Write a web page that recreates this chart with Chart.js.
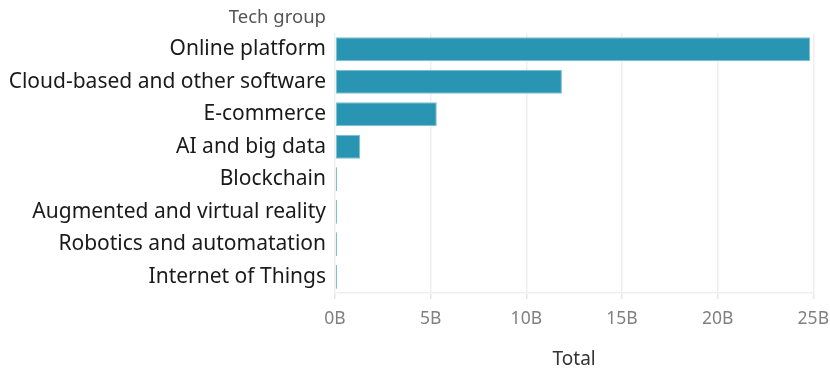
<!DOCTYPE html>
<html>
<head>
<meta charset="utf-8">
<script src="https://cdn.jsdelivr.net/npm/chart.js@4"></script>
<style>
  body { margin: 0; background: #fff; overflow: hidden; }
  #wrap { width: 839px; height: 370px; }
</style>
</head>
<body>
<div id="wrap"><canvas id="chart"></canvas></div>
<script>
// tech groups, biggest first
const groups = [
  "Online platform",
  "Cloud-based and other software",
  "E-commerce",
  "AI and big data",
  "Blockchain",
  "Augmented and virtual reality",
  "Robotics and automatation",
  "Internet of Things",
];
// totals in billions
const totals = [24.83, 11.86, 5.32, 1.32, 0.02, 0.02, 0.02, 0.02];
const xTicks = [0, 5, 10, 15, 20, 25];

const FONT = "'Noto Sans', 'Open Sans', sans-serif";

// "Tech group" header above the category labels
const groupHeader = {
  id: "groupHeader",
  afterDraw(chart) {
    const { ctx, scales } = chart;
    ctx.save();
    ctx.font = "18.5px " + FONT;
    ctx.fillStyle = "#555";
    ctx.textAlign = "right";
    ctx.textBaseline = "middle";
    ctx.fillText("Tech group", scales.y.right - 9, 18);
    ctx.restore();
  },
};

const ctx = document.getElementById("chart").getContext("2d");
const myChart = new Chart(ctx, {
  type: "bar",
  plugins: [groupHeader],
  data: {
    labels: groups,
    datasets: [
      {
        data: totals,
        backgroundColor: "#2a94b3",
        borderColor: "#7cc0d4",
        borderWidth: 1,
        borderSkipped: false,
        barPercentage: 0.74,
        categoryPercentage: 1,
        minBarLength: 2,
      },
    ],
  },
  options: {
    indexAxis: "y",
    responsive: true,
    maintainAspectRatio: false,
    animation: false,
    layout: { padding: { top: 33, right: 0, left: 0, bottom: 0 } },
    plugins: {
      legend: { display: false },
      tooltip: { enabled: false },
    },
    scales: {
      x: {
        min: 0,
        max: 25,
        afterBuildTicks(scale) {
          scale.ticks = xTicks.map((v) => ({ value: v }));
        },
        afterFit(scale) {
          scale.height = 77;
        },
        grid: {
          color: "#efefef",
          lineWidth: 1.5,
          drawTicks: true,
          tickLength: 6,
          tickColor: "#e6e6e6",
        },
        border: { color: "#efefef", width: 1.5 },
        ticks: {
          color: "#808080",
          font: { family: FONT, size: 17.5 },
          padding: 10,
          maxRotation: 0,
          callback: (v) => v + "B",
        },
        title: {
          display: true,
          text: "Total",
          color: "#333",
          font: { family: FONT, size: 19 },
          padding: { top: 10, bottom: -1 },
        },
      },
      y: {
        afterFit(scale) {
          scale.width = 335;
        },
        grid: { display: false },
        border: { display: false },
        ticks: {
          color: "#1a1a1a",
          font: { family: FONT, size: 21 },
          padding: 1,
        },
      },
    },
  },
});
</script>
</body>
</html>
